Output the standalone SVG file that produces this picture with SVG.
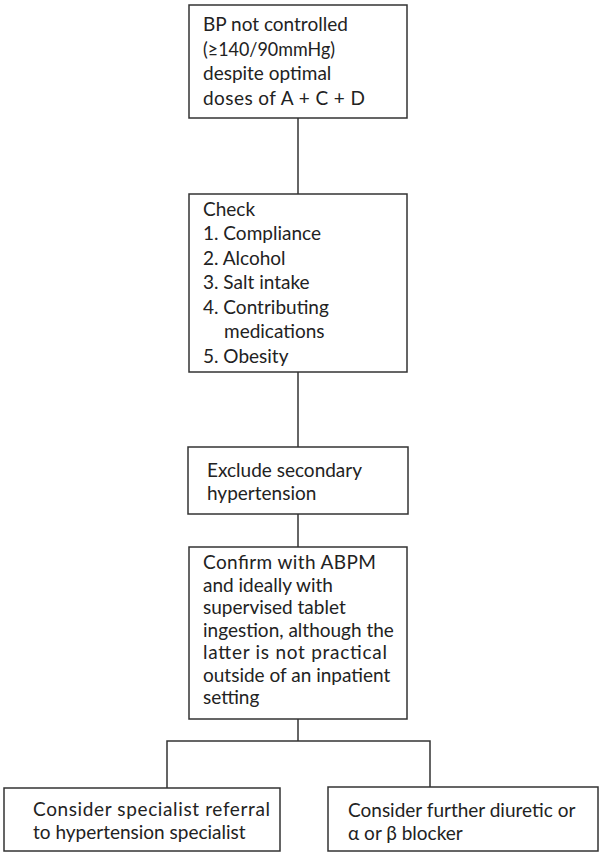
<svg xmlns="http://www.w3.org/2000/svg" width="602" height="853" viewBox="0 0 602 853">
<style>
.box{fill:#fff;stroke:#333;stroke-width:1.5}
.ln{fill:none;stroke:#333;stroke-width:1.5}
text{font-family:Lato,"Open Sans","Liberation Sans",sans-serif;font-size:19px;fill:#222}
</style>
<rect width="602" height="853" fill="#fff"/>
<g id="connectors">
<line class="ln" x1="298" y1="118" x2="298" y2="194"/>
<line class="ln" x1="298" y1="372" x2="298" y2="447"/>
<line class="ln" x1="298" y1="514" x2="298" y2="547"/>
<polyline class="ln" points="298,719 298,741"/>
<polyline class="ln" points="167,788 167,741 430,741 430,787"/>
</g>
<g id="n1">
<rect class="box" x="189" y="5" width="218" height="113"/>
<text x="203" y="31">BP not controlled</text>
<text x="203" y="56" textLength="132" lengthAdjust="spacingAndGlyphs">(≥140/90mmHg)</text>
<text x="203" y="80">despite optimal</text>
<text x="203" y="105" textLength="162" lengthAdjust="spacing">doses of A + C + D</text>
</g>
<g id="n2">
<rect class="box" x="189" y="194" width="218" height="178"/>
<text x="203" y="216">Check</text>
<text x="203" y="240">1. Compliance</text>
<text x="203" y="265">2. Alcohol</text>
<text x="203" y="289">3. Salt intake</text>
<text x="203" y="314">4. Contributing</text>
<text x="224" y="338">medications</text>
<text x="203" y="363">5. Obesity</text>
</g>
<g id="n3">
<rect class="box" x="188" y="447" width="220" height="67"/>
<text x="207" y="477">Exclude secondary</text>
<text x="207" y="500">hypertension</text>
</g>
<g id="n4">
<rect class="box" x="189" y="547" width="218" height="172"/>
<text x="203" y="569" textLength="173" lengthAdjust="spacing">Confirm with ABPM</text>
<text x="203" y="591.5">and ideally with</text>
<text x="203" y="614">supervised tablet</text>
<text x="203" y="636.5">ingestion, although the</text>
<text x="203" y="659" textLength="184" lengthAdjust="spacing">latter is not practical</text>
<text x="203" y="681.5">outside of an inpatient</text>
<text x="203" y="704">setting</text>
</g>
<g id="n5">
<rect class="box" x="4" y="788" width="276" height="63"/>
<text x="33" y="816" textLength="237" lengthAdjust="spacing">Consider specialist referral</text>
<text x="33" y="839">to hypertension specialist</text>
</g>
<g id="n6">
<rect class="box" x="328" y="787" width="270" height="64"/>
<text x="348" y="817">Consider further diuretic or</text>
<text x="348" y="840">α or β blocker</text>
</g>
</svg>
